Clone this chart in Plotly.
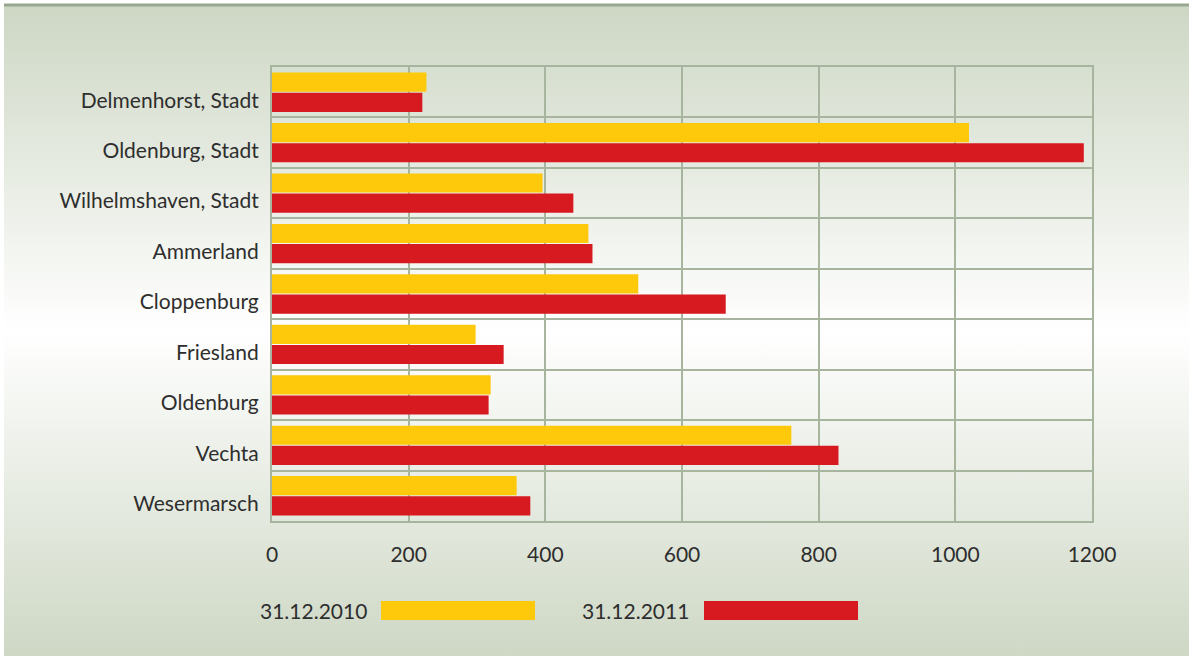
import base64
import plotly.graph_objects as go

categories = ["Delmenhorst, Stadt", "Oldenburg, Stadt", "Wilhelmshaven, Stadt", "Ammerland",
              "Cloppenburg", "Friesland", "Oldenburg", "Vechta", "Wesermarsch"]
values_2010 = [226, 1020, 396, 463, 536, 298, 320, 760, 358]
values_2011 = [220, 1188, 441, 469, 664, 339, 317, 829, 378]
series_names = ["31.12.2010", "31.12.2011"]
x_ticks = [0, 200, 400, 600, 800, 1000, 1200]

YELLOW = "#FEC90B"
RED = "#D71920"
GRID = "#A7B59F"
TEXT = "#2E2E2E"
FONT = "Lato"

W, H = 1189, 657
L, R, T, B = 272, 97, 67, 136
PW, PH = W - L - R, H - T - B


def px_x(p):
    return (p - L) / PW


def px_y(p):
    return (H - B - p) / PH


fig = go.Figure()
fig.add_trace(go.Bar(y=categories, x=values_2010, name=series_names[0], orientation="h",
                     marker=dict(color=YELLOW, line=dict(width=0)), showlegend=False))
fig.add_trace(go.Bar(y=categories, x=values_2011, name=series_names[1], orientation="h",
                     marker=dict(color=RED, line=dict(width=0)), showlegend=False))

# background gradient (styling only)
svg = ('<svg xmlns="http://www.w3.org/2000/svg" width="100" height="100" preserveAspectRatio="none">'
       '<defs><linearGradient id="g" x1="0" y1="0" x2="0" y2="1">'
       '<stop offset="0" stop-color="#CDD7C4"/><stop offset="0.5" stop-color="#FFFFFF"/>'
       '<stop offset="1" stop-color="#CED8C5"/></linearGradient></defs>'
       '<rect width="100" height="100" fill="url(#g)"/></svg>')
uri = "data:image/svg+xml;base64," + base64.b64encode(svg.encode()).decode()
fig.add_layout_image(dict(source=uri, xref="paper", yref="paper",
                          x=px_x(4), y=px_y(5), sizex=(W - 4) / PW, sizey=(H - 6) / PH,
                          xanchor="left", yanchor="top", sizing="stretch", layer="below"))

shapes = [
    dict(type="line", xref="paper", yref="paper", x0=px_x(4), x1=px_x(W), y0=px_y(5), y1=px_y(5),
         line=dict(color="#9AA78F", width=3)),
    dict(type="rect", xref="paper", yref="paper", x0=px_x(381), x1=px_x(535), y0=px_y(601), y1=px_y(620),
         fillcolor=YELLOW, line=dict(width=0)),
    dict(type="rect", xref="paper", yref="paper", x0=px_x(704), x1=px_x(858), y0=px_y(601), y1=px_y(620),
         fillcolor=RED, line=dict(width=0)),
]
annotations = [
    dict(text=series_names[0], xref="paper", yref="paper", x=px_x(369), y=px_y(610),
         xanchor="right", yanchor="middle", showarrow=False, font=dict(size=21, color=TEXT, family=FONT)),
    dict(text=series_names[1], xref="paper", yref="paper", x=px_x(691), y=px_y(610),
         xanchor="right", yanchor="middle", showarrow=False, font=dict(size=21, color=TEXT, family=FONT)),
]

fig.update_layout(
    width=W, height=H,
    margin=dict(l=L, r=R, t=T, b=B, pad=0),
    paper_bgcolor="white",
    plot_bgcolor="rgba(0,0,0,0)",
    barmode="group",
    bargap=0.2,
    bargroupgap=0.05,
    font=dict(family=FONT, size=21, color=TEXT),
    shapes=shapes,
    annotations=annotations,
    showlegend=False,
    xaxis=dict(range=[0, 1200], tickvals=x_ticks, ticktext=[str(v) for v in x_ticks],
               showgrid=True, gridcolor=GRID, gridwidth=2,
               showline=True, linecolor=GRID, linewidth=2, mirror=True,
               zeroline=False, ticks="", ticklabelstandoff=14,
               tickfont=dict(size=21, color=TEXT, family=FONT)),
    yaxis=dict(categoryorder="array", categoryarray=categories, autorange="reversed",
               tickson="boundaries", showgrid=True, gridcolor=GRID, gridwidth=2,
               showline=True, linecolor=GRID, linewidth=2, mirror=True,
               ticks="", ticklabelstandoff=7, ticklabelshift=-8,
               tickfont=dict(size=21, color=TEXT, family=FONT)),
)

fig.write_html("out.html", config={"displayModeBar": False},
               post_script="document.body.style.margin='0';document.body.style.overflow='hidden';")
